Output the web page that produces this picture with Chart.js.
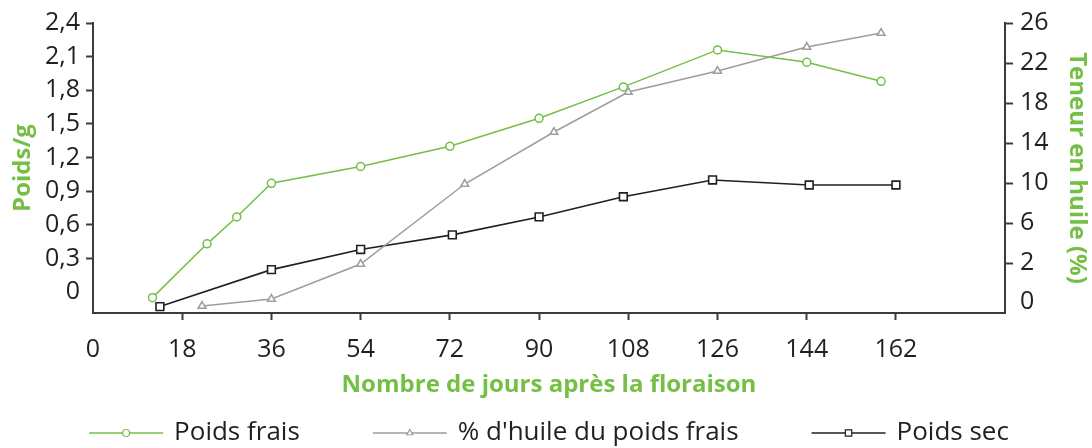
<!DOCTYPE html>
<html><head><meta charset="utf-8">
<script src="https://cdn.jsdelivr.net/npm/chart.js@4/dist/chart.umd.min.js"></script>
<style>html,body{margin:0;padding:0;background:#fff}#wrap{width:1092px;height:448px}</style>
</head><body><div id="wrap"><canvas id="c" width="1092" height="448"></canvas></div>
<script>
// ---- data ----
const freshDays = [12, 23, 29, 36, 54, 72, 90, 107, 126, 144, 159];
const freshWeight = [-0.05, 0.43, 0.67, 0.97, 1.12, 1.30, 1.55, 1.83, 2.16, 2.05, 1.88];
const oilDays = [22, 36, 54, 75, 93, 108, 126, 144, 159];
const oilPercent = [-2.3, -1.6, 1.9, 9.9, 15.1, 19.1, 21.2, 23.6, 25.0];
const dryDays = [13.5, 36, 54, 72.5, 90, 107, 125, 144.5, 162];
const dryWeight = [-0.13, 0.20, 0.38, 0.51, 0.67, 0.85, 1.00, 0.955, 0.955];
const seriesNames = ['Poids frais', "% d'huile du poids frais", 'Poids sec'];
const xTicks = [0, 18, 36, 54, 72, 90, 108, 126, 144, 162];
const leftTicks = [0, 0.3, 0.6, 0.9, 1.2, 1.5, 1.8, 2.1, 2.4];
const rightTickValues = [-1.9, 2, 6, 10, 14, 18, 22, 26];
const rightTickLabels = ['0', '2', '6', '10', '14', '18', '22', '26'];
const xTitle = 'Nombre de jours après la floraison';
const leftTitle = 'Poids/g';
const rightTitle = 'Teneur en huile (%)';

// ---- style ----
const GREEN = '#74bf44';
const GREY = '#9d9d9c';
const BLACK = '#231f20';
const AXIS = '#3c3c3b';
const TEXT = '#231f20';
const FONT = '"Open Sans", "Noto Sans", sans-serif';

function pts(xs, ys) { return xs.map((x, i) => ({x: x, y: ys[i]})); }
function noTickAt(v) {
  return c => (c.tick && Math.abs(c.tick.value - v) < 1e-9) ? 'rgba(0,0,0,0)' : AXIS;
}

function drawMarker(ctx, style, x, y, r) {
  ctx.beginPath();
  if (style === 'circle') {
    ctx.arc(x, y, r, 0, Math.PI * 2);
  } else if (style === 'triangle') {
    for (let k = 0; k < 3; k++) {
      const a = -Math.PI / 2 + k * 2 * Math.PI / 3;
      const px = x + r * Math.cos(a), py = y + r * Math.sin(a);
      if (k === 0) ctx.moveTo(px, py); else ctx.lineTo(px, py);
    }
    ctx.closePath();
  } else {
    const s = r * Math.SQRT1_2;
    ctx.rect(x - s, y - s, 2 * s, 2 * s);
  }
  ctx.fill();
  ctx.stroke();
}

const lineLegend = {
  id: 'lineLegend',
  afterDraw(chart) {
    const ctx = chart.ctx;
    ctx.save();
    ctx.font = '26px ' + FONT;
    const lineLen = 74, textGap = 11, itemGap = 73;
    const items = chart.data.datasets.map(ds => ({ds: ds, w: ctx.measureText(ds.label).width}));
    const total = items.reduce((s, it) => s + lineLen + textGap + it.w, 0) + itemGap * (items.length - 1);
    let x = (chart.chartArea.left + chart.chartArea.right) / 2 - total / 2;
    const y = 433;
    items.forEach(it => {
      const ds = it.ds;
      ctx.strokeStyle = ds.borderColor;
      ctx.lineWidth = ds.borderWidth;
      ctx.beginPath();
      ctx.moveTo(x, y); ctx.lineTo(x + lineLen, y);
      ctx.stroke();
      ctx.fillStyle = '#ffffff';
      ctx.strokeStyle = ds.pointBorderColor;
      ctx.lineWidth = 1.2;
      drawMarker(ctx, ds.pointStyle, x + lineLen / 2, y, ds.pointStyle === 'rect' ? 4.5 : 3.5);
      ctx.fillStyle = TEXT;
      ctx.textBaseline = 'middle';
      ctx.textAlign = 'left';
      ctx.fillText(ds.label, x + lineLen + textGap, y);
      x += lineLen + textGap + it.w + itemGap;
    });
    ctx.restore();
  }
};

new Chart(document.getElementById('c'), {
  type: 'line',
  data: {
    datasets: [
      {label: seriesNames[0], data: pts(freshDays, freshWeight), yAxisID: 'y',
       borderColor: GREEN, borderWidth: 1.5, pointStyle: 'circle', pointRadius: 4,
       pointBorderWidth: 1.5, pointBackgroundColor: '#ffffff', pointBorderColor: GREEN, tension: 0},
      {label: seriesNames[1], data: pts(oilDays, oilPercent), yAxisID: 'y2',
       borderColor: GREY, borderWidth: 1.5, pointStyle: 'triangle', pointRadius: 4.5,
       pointBorderWidth: 1.5, pointBackgroundColor: '#ffffff', pointBorderColor: GREY, tension: 0},
      {label: seriesNames[2], data: pts(dryDays, dryWeight), yAxisID: 'y',
       borderColor: BLACK, borderWidth: 1.6, pointStyle: 'rect', pointRadius: 5.5,
       pointBorderWidth: 1.6, pointBackgroundColor: '#ffffff', pointBorderColor: BLACK, tension: 0}
    ]
  },
  options: {
    responsive: false,
    animation: false,
    devicePixelRatio: 1,
    clip: false,
    layout: {padding: {top: 23, left: 0, right: 0, bottom: 0}},
    plugins: {legend: {display: false}, tooltip: {enabled: false}},
    scales: {
      x: {
        type: 'linear', position: 'bottom', min: 0, max: 184,
        afterBuildTicks: s => { s.ticks = xTicks.map(v => ({value: v})); },
        afterFit: s => { s.height = 135; },
        border: {display: true, color: AXIS, width: 2},
        grid: {display: true, drawOnChartArea: false, drawTicks: true, tickLength: 7, tickWidth: 2, tickColor: noTickAt(0)},
        ticks: {autoSkip: false, maxRotation: 0, padding: 15, color: TEXT, font: {family: FONT, size: 25},
                callback: v => String(v)},
        title: {display: true, text: xTitle, color: GREEN, font: {family: FONT, size: 24, weight: 'bold'},
                padding: {top: 0, bottom: 48}}
      },
      y: {
        type: 'linear', position: 'left', min: -0.187, max: 2.4,
        afterBuildTicks: s => { s.ticks = leftTicks.map(v => ({value: v})); },
        afterFit: s => { s.width = 93; },
        border: {display: true, color: AXIS, width: 2},
        grid: {display: true, drawOnChartArea: false, drawTicks: true, tickLength: 7, tickWidth: 2, tickColor: noTickAt(0)},
        ticks: {padding: 6, color: TEXT, font: {family: FONT, size: 25},
                callback: v => String(Math.round(v * 10) / 10).replace('.', ',')},
        title: {display: true, text: leftTitle, color: GREEN, font: {family: FONT, size: 24, weight: 'bold'},
                padding: {top: 9, bottom: 0}}
      },
      y2: {
        type: 'linear', position: 'right', min: -3, max: 26,
        afterBuildTicks: s => { s.ticks = rightTickValues.map(v => ({value: v})); },
        afterFit: s => { s.width = 87; },
        border: {display: true, color: AXIS, width: 2},
        grid: {display: true, drawOnChartArea: false, drawTicks: true, tickLength: 8, tickWidth: 2, tickColor: noTickAt(rightTickValues[0])},
        ticks: {padding: 7, color: TEXT, font: {family: FONT, size: 25},
                callback: (v, i) => rightTickLabels[i]},
        title: {display: true, text: rightTitle, color: GREEN, font: {family: FONT, size: 24, weight: 'bold'},
                padding: {top: 1, bottom: 0}}
      }
    }
  },
  plugins: [lineLegend]
});
</script>
</body></html>
